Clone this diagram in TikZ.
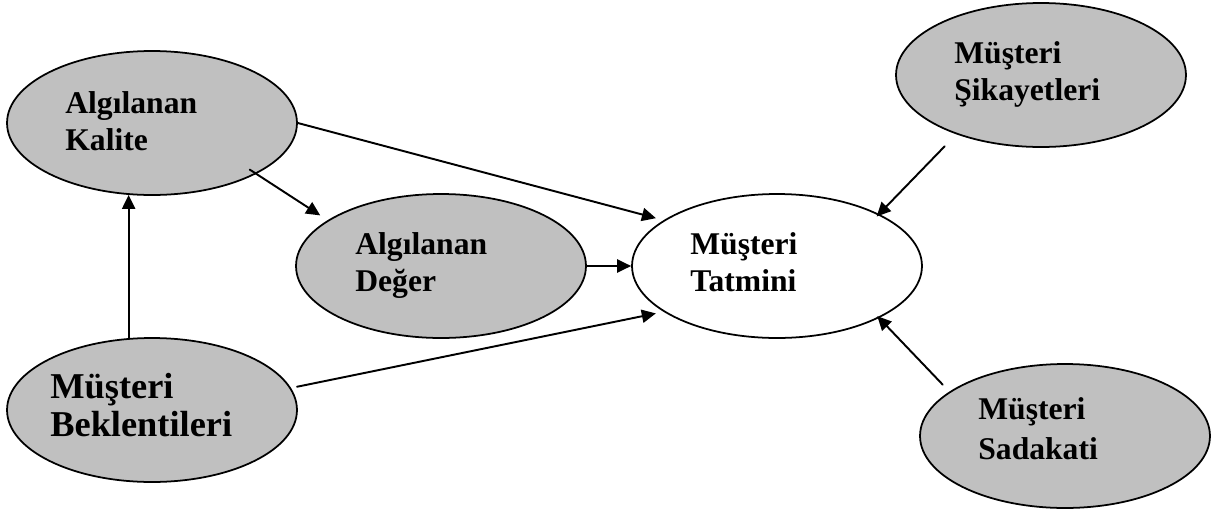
\documentclass[tikz,border=0pt]{standalone}
\usepackage{fontspec}
\setmainfont{Liberation Serif}
\usetikzlibrary{shapes.geometric,arrows.meta}
\definecolor{ovalgray}{HTML}{C0C0C0}
\begin{document}
\begin{tikzpicture}[x=0.02cm, y=-0.02cm, >={Triangle[length=8pt,width=7.5pt]}, line join=round, line cap=round,
	font=\bfseries\fontsize{18}{21}\selectfont,
	oval/.style={ellipse, draw, line width=1pt, inner sep=0pt, minimum width=5.8cm, minimum height=2.88cm},
	txt/.style={anchor=north west, inner sep=0pt, align=left},
	link/.style={->, line width=1.1pt}]
	\useasboundingbox (0,0) rectangle (1218,511);
	% ovals
	\node[oval, fill=ovalgray] (kalite) at (152,123) {};
	\node[oval, fill=ovalgray] (deger) at (441,266) {};
	\node[oval, fill=white] (tatmin) at (777,266) {};
	\node[oval, fill=ovalgray] (sikayet) at (1041,75) {};
	\node[oval, fill=ovalgray] (beklenti) at (152,410) {};
	\node[oval, fill=ovalgray] (sadakat) at (1065,436) {};
	% texts
	\node[txt] (kalitetxt) at (65,91) {Algılanan\\Kalite};
	\node[txt] (degertxt) at (355,232) {Algılanan\\Değer};
	\node[txt] (tatmintxt) at (690,232) {Müşteri\\Tatmini};
	\node[txt] (sikayettxt) at (954,41) {Müşteri\\Şikayetleri};
	\node[txt, font=\bfseries\fontsize{20.7}{21.6}\selectfont] (beklentitxt) at (50,373) {Müşteri\\Beklentileri};
	\node[txt] (sadakattxt) at (978,397) {Müşteri\\[2pt]Sadakati};
	% arrows
	\draw[link, shorten >=4.5pt] (kalite.east) -- (tatmin.158);
	\draw[link, shorten <=-4.5pt, shorten >=5pt] (kalite.-26) -- (deger.158);
	\draw[link] (beklenti.108) -- (kalite.252);
	\draw[link] (deger.east) -- (tatmin.west);
	\draw[link, shorten <=3.5pt, shorten >=4.5pt] (beklenti.9) -- (tatmin.202);
	\draw[link, shorten <=9.5pt, shorten >=-2pt] (sikayet.215) -- (tatmin.27);
	\draw[link, shorten <=5.5pt, shorten >=-1.5pt] (sadakat.159) -- (tatmin.-27);
\end{tikzpicture}
\end{document}
